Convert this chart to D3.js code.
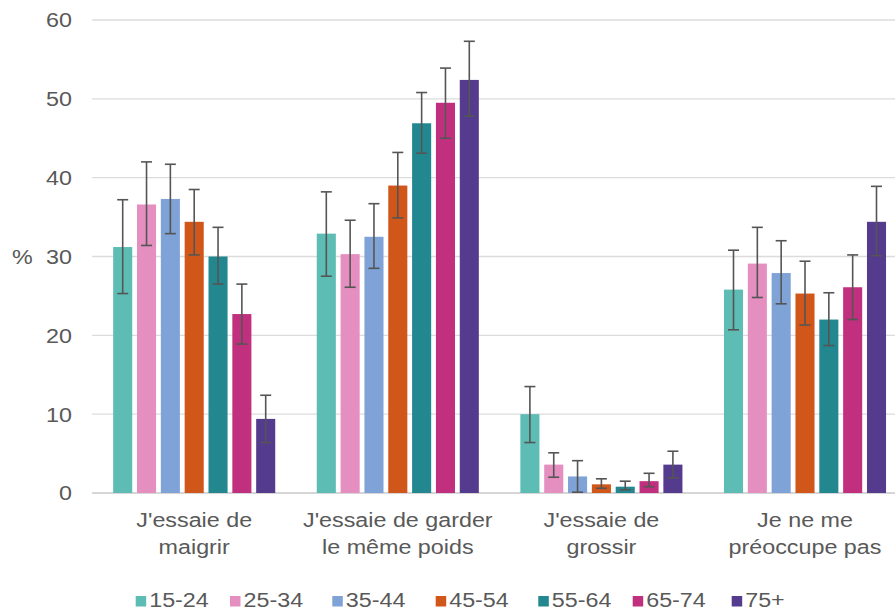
<!DOCTYPE html>
<html>
<head>
<meta charset="utf-8">
<script src="https://cdn.jsdelivr.net/npm/d3@7"></script>
<style>
  html, body { margin: 0; padding: 0; background: #fff; }
  svg { display: block; font-family: "Liberation Sans", Arial, sans-serif; }
</style>
</head>
<body>
<svg id="chart" width="895" height="611"></svg>
<script>
// Categories (two-line labels) and age groups
const categories = ["J'essaie de maigrir", "J'essaie de garder le même poids", "J'essaie de grossir", "Je ne me préoccupe pas"];
const categoryLines = [["J'essaie de", "maigrir"], ["J'essaie de garder", "le même poids"], ["J'essaie de", "grossir"], ["Je ne me", "préoccupe pas"]];
const ageGroups = ["15-24", "25-34", "35-44", "45-54", "55-64", "65-74", "75+"];
const colors = ["#5dbdb5", "#e58fc0", "#7fa2d7", "#d1561a", "#23878f", "#c1307f", "#553b8d"];

// Percentages per age group, one value per category
const v1524 = [31.2, 32.9, 10.0, 25.8];
const v2534 = [36.6, 30.3, 3.6, 29.1];
const v3544 = [37.3, 32.5, 2.1, 27.9];
const v4554 = [34.4, 39.0, 1.1, 25.3];
const v5564 = [30.0, 46.9, 0.8, 22.0];
const v6574 = [22.7, 49.5, 1.5, 26.1];
const v75 = [9.4, 52.4, 3.6, 34.4];

// Confidence interval bounds (low / high)
const lo1524 = [25.3, 27.5, 6.4, 20.7];
const hi1524 = [37.2, 38.2, 13.5, 30.8];
const lo2534 = [31.4, 26.1, 2.0, 24.8];
const hi2534 = [42.0, 34.6, 5.1, 33.7];
const lo3544 = [32.9, 28.5, 0.1, 24.0];
const hi3544 = [41.7, 36.7, 4.1, 32.0];
const lo4554 = [30.2, 34.9, 0.6, 21.3];
const hi4554 = [38.5, 43.2, 1.8, 29.4];
const lo5564 = [26.5, 43.1, 0.4, 18.7];
const hi5564 = [33.7, 50.8, 1.5, 25.4];
const lo6574 = [18.9, 45.0, 0.8, 22.0];
const hi6574 = [26.5, 53.9, 2.5, 30.2];
const lo75 = [6.4, 47.8, 1.9, 30.1];
const hi75 = [12.4, 57.3, 5.3, 38.9];

const yTicks = [0, 10, 20, 30, 40, 50, 60];

const values = [v1524, v2534, v3544, v4554, v5564, v6574, v75];
const lows = [lo1524, lo2534, lo3544, lo4554, lo5564, lo6574, lo75];
const highs = [hi1524, hi2534, hi3544, hi4554, hi5564, hi6574, hi75];

const rows = [];
categories.forEach((c, ci) => {
  ageGroups.forEach((a, ai) => {
    rows.push({ cat: c, age: a, ai, value: values[ai][ci], lo: lows[ai][ci], hi: highs[ai][ci] });
  });
});

const svg = d3.select("#chart");
const textColor = "#595959";
const fontSize = 21;
const stretch = 1.11;

const x = d3.scaleBand().domain(categories).range([92.4, 906.8]).padding(0);
const gw = x.bandwidth();
const xi = d3.scaleBand().domain(ageGroups).range([gw * 0.102, gw * 0.898]).paddingInner(0.2);
const y = d3.scaleLinear().domain([0, 60]).range([493, 20]);
const color = d3.scaleOrdinal().domain(ageGroups).range(colors);

// Horizontal gridlines
svg.append("g").selectAll("line").data(yTicks).join("line")
  .attr("x1", 92).attr("x2", 895)
  .attr("y1", d => y(d)).attr("y2", d => y(d))
  .attr("stroke", d => d === 0 ? "#c8c8c8" : "#dcdcdc")
  .attr("stroke-width", 1.3);

// Y tick labels
const yAxis = svg.append("g").selectAll("text").data(yTicks).join("text")
  .attr("transform", d => `translate(72,${y(d)}) scale(${stretch},1)`)
  .attr("dy", "0.35em")
  .attr("text-anchor", "end")
  .attr("fill", textColor)
  .attr("font-size", fontSize)
  .text(d => d);

svg.append("text")
  .attr("transform", `translate(12,${y(30)}) scale(${stretch},1)`)
  .attr("dy", "0.35em")
  .attr("fill", textColor)
  .attr("font-size", fontSize)
  .text("%");

// Bars
const groups = svg.append("g").selectAll("g").data(categories).join("g")
  .attr("transform", d => `translate(${x(d)},0)`);

groups.selectAll("rect").data(c => rows.filter(r => r.cat === c)).join("rect")
  .attr("x", d => xi(d.age))
  .attr("width", xi.bandwidth())
  .attr("y", d => y(d.value))
  .attr("height", d => y(0) - y(d.value))
  .attr("fill", d => color(d.age));

// Error bars
const capW = 11;
const eb = groups.selectAll("g.err").data(c => rows.filter(r => r.cat === c)).join("g")
  .attr("class", "err")
  .attr("stroke", "#555555")
  .attr("stroke-width", 1.6);
eb.append("line")
  .attr("x1", d => xi(d.age) + xi.bandwidth() / 2)
  .attr("x2", d => xi(d.age) + xi.bandwidth() / 2)
  .attr("y1", d => y(d.lo)).attr("y2", d => y(d.hi));
eb.append("line")
  .attr("x1", d => xi(d.age) + xi.bandwidth() / 2 - capW / 2)
  .attr("x2", d => xi(d.age) + xi.bandwidth() / 2 + capW / 2)
  .attr("y1", d => y(d.hi)).attr("y2", d => y(d.hi));
eb.append("line")
  .attr("x1", d => xi(d.age) + xi.bandwidth() / 2 - capW / 2)
  .attr("x2", d => xi(d.age) + xi.bandwidth() / 2 + capW / 2)
  .attr("y1", d => y(d.lo)).attr("y2", d => y(d.lo));

// Category labels
categories.forEach((c, ci) => {
  categoryLines[ci].forEach((line, li) => {
    svg.append("text")
      .attr("transform", `translate(${x(c) + gw / 2},${527 + li * 27}) scale(${stretch},1)`)
      .attr("text-anchor", "middle")
      .attr("fill", textColor)
      .attr("font-size", fontSize)
      .text(line);
  });
});

// Legend
const legendX = [135.7, 230, 332.3, 435.7, 538.3, 632.7, 731.7];
const legend = svg.append("g").selectAll("g").data(ageGroups).join("g")
  .attr("transform", (d, i) => `translate(${legendX[i]},0)`);
legend.append("rect")
  .attr("x", 0).attr("y", 596).attr("width", 10.5).attr("height", 10.5)
  .attr("fill", d => color(d));
legend.append("text")
  .attr("transform", `translate(13.5,607) scale(${stretch},1)`)
  .attr("fill", textColor)
  .attr("font-size", fontSize)
  .text(d => d);
</script>
</body>
</html>
